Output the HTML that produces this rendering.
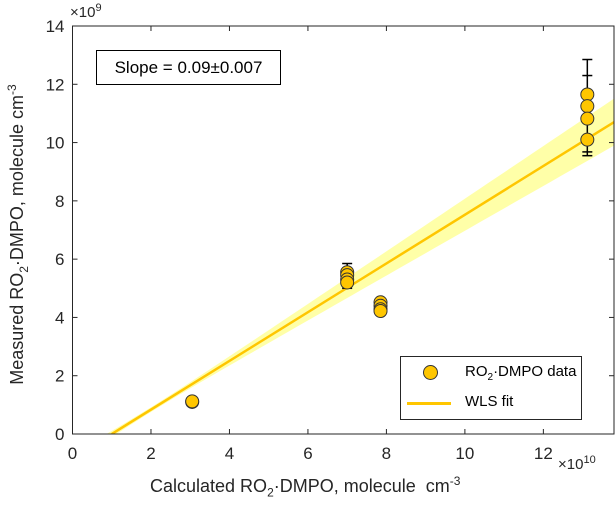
<!DOCTYPE html>
<html><head><meta charset="utf-8"><style>
body{margin:0;background:#fff;font-family:"Liberation Sans",sans-serif}
svg text{font-family:"Liberation Sans",sans-serif;fill:#262626}
</style></head><body>
<svg id="c" width="616" height="508" viewBox="0 0 616 508"></svg>
<script>
const xTicks=[0,2,4,6,8,10,12];
const yTicks=[0,2,4,6,8,10,12,14];
const groupX=[3.05,7.0,7.85,13.12];
const groupY=[[1.1,1.12],[5.55,5.45,5.3,5.2],[4.52,4.4,4.28,4.22],[11.65,11.25,10.82,10.1]];
const errTop=[1.15,5.85,4.62,12.85];
const errBot=[1.05,5.0,4.12,9.55];
const errMidCaps=[[],[],[],[12.3,9.68]];
const fitSlope=0.836, fitX0=1.0, slopeSE=0.068, centerX=2.0, baseSE=0.08;
const NS="http://www.w3.org/2000/svg";
const svg=document.getElementById('c');
const L=72.5,R=614,T=26,B=434,XMAX=13.8,YMAX=14;
const sx=v=>L+v/XMAX*(R-L), sy=v=>B-v/YMAX*(B-T);
function el(t,a,p){const e=document.createElementNS(NS,t);for(const k in a)e.setAttribute(k,a[k]);(p||svg).appendChild(e);return e;}
const defs=el('defs',{});const cp=el('clipPath',{id:'cp'},defs);el('rect',{x:L,y:T,width:R-L,height:B-T},cp);
const g=el('g',{'clip-path':'url(#cp)'});
let up=[],dn=[];
for(let i=0;i<=60;i++){const x=i/60*XMAX;const y=fitSlope*(x-fitX0);const h=Math.sqrt(baseSE*baseSE+Math.pow(slopeSE*(x-centerX),2));up.push(sx(x)+','+sy(y+h));dn.unshift(sx(x)+','+sy(y-h));}
const band=el('polygon',{points:up.concat(dn).join(' '),fill:'#ffff99',opacity:0.85},g);

const fl=el('line',{x1:sx(fitX0),y1:sy(0),x2:sx(XMAX),y2:sy(fitSlope*(XMAX-fitX0)),stroke:'#ffc600','stroke-width':2.5},g);

groupX.forEach((x,i)=>{const X=sx(x);
 const eb=el('g',{stroke:'#000','stroke-width':1.5});
 
 el('line',{x1:X,x2:X,y1:sy(errTop[i]),y2:sy(errBot[i])},eb);
 [errTop[i],errBot[i]].concat(errMidCaps[i]).forEach(v=>el('line',{x1:X-5,x2:X+5,y1:sy(v),y2:sy(v)},eb));
});
groupX.forEach((x,i)=>groupY[i].forEach(v=>{const c=el('circle',{cx:sx(x),cy:sy(v),r:6.5,fill:'#ffc600',stroke:'#333','stroke-width':1});
 }));
const ax=el('g',{stroke:'#262626','stroke-width':1,fill:'none'});
el('rect',{x:L,y:T,width:R-L,height:B-T},ax);
xTicks.forEach(t=>{el('line',{x1:sx(t),x2:sx(t),y1:B,y2:B-5},ax);el('line',{x1:sx(t),x2:sx(t),y1:T,y2:T+5},ax);
 const tx=el('text',{x:sx(t),y:B+25,'text-anchor':'middle','font-size':17});tx.textContent=t;});
yTicks.forEach(t=>{el('line',{x1:L,x2:L+5,y1:sy(t),y2:sy(t)},ax);el('line',{x1:R,x2:R-5,y1:sy(t),y2:sy(t)},ax);
 const tx=el('text',{x:L-8,y:sy(t)+6,'text-anchor':'end','font-size':17});tx.textContent=t;});
</script>
<div style="position:absolute;left:0;top:0;width:616px;height:508px;pointer-events:none">
<div style="position:absolute;left:70px;top:2px;font-size:15px;color:#262626">×10<sup style="font-size:11px">9</sup></div>
<div style="position:absolute;left:558px;top:454px;font-size:15px;color:#262626">×10<sup style="font-size:11px">10</sup></div>
<div style="position:absolute;left:150px;top:474px;font-size:18px;color:#262626;white-space:nowrap">Calculated RO<sub style="font-size:12px">2</sub>·DMPO, molecule &nbsp;cm<sup style="font-size:12px">-3</sup></div>
<div style="position:absolute;left:-132px;top:222px;width:300px;text-align:center;font-size:18px;color:#262626;white-space:nowrap;transform:rotate(-90deg)">Measured RO<sub style="font-size:12px">2</sub>·DMPO, molecule cm<sup style="font-size:12px">-3</sup></div>
<div style="position:absolute;left:96px;top:50px;width:183px;height:33px;border:1px solid #000;background:#fff;font-size:17px;line-height:33px;text-align:center;color:#000">Slope = 0.09±0.007</div>
<div style="position:absolute;left:400px;top:356px;width:180px;height:62px;border:1px solid #262626;background:#fff;font-size:15px;color:#000">
 <div style="position:absolute;left:22px;top:8px;width:13px;height:13px;border-radius:50%;background:#ffc600;border:1px solid #333"></div>
 <div style="position:absolute;left:64px;top:6px;white-space:nowrap">RO<sub style="font-size:10px">2</sub>·DMPO data</div>
 <div style="position:absolute;left:6px;top:45px;width:44px;height:3px;background:#ffc600"></div>
 <div style="position:absolute;left:64px;top:36px">WLS fit</div>
</div>
</div>
</body></html>
